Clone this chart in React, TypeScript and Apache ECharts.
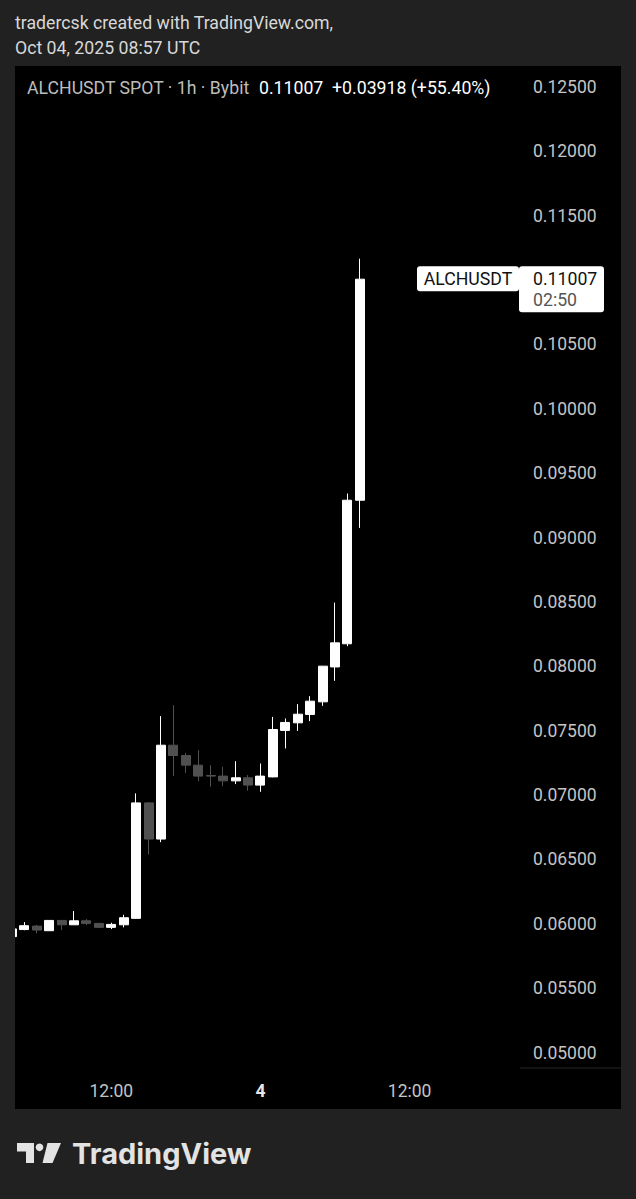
import React, { useEffect, useRef } from "react";
import * as echarts from "echarts";

// Hourly candles, Oct 03 04:00 UTC -> Oct 04 08:00 UTC
const times = [
  "03 04:00", "03 05:00", "03 06:00", "03 07:00", "03 08:00", "03 09:00", "03 10:00", "03 11:00",
  "03 12:00", "03 13:00", "03 14:00", "03 15:00", "03 16:00", "03 17:00", "03 18:00", "03 19:00",
  "03 20:00", "03 21:00", "03 22:00", "03 23:00", "04 00:00", "04 01:00", "04 02:00", "04 03:00",
  "04 04:00", "04 05:00", "04 06:00", "04 07:00", "04 08:00",
];
const opens = [
  0.0590, 0.05955, 0.05982, 0.05946, 0.06026, 0.05992, 0.06023, 0.06003,
  0.05972, 0.05992, 0.06042, 0.06939, 0.06658, 0.07387, 0.07307, 0.07232,
  0.07152, 0.07147, 0.0711, 0.07134, 0.07077, 0.07141, 0.07502, 0.07561,
  0.07626, 0.07724, 0.07995, 0.08175, 0.0929,
];
const closes = [
  0.0596, 0.05985, 0.05951, 0.06026, 0.05992, 0.06023, 0.06003, 0.05972,
  0.05995, 0.06047, 0.06939, 0.06658, 0.07387, 0.07307, 0.07232, 0.07147,
  0.07147, 0.0711, 0.07134, 0.07077, 0.07147, 0.07509, 0.07564, 0.07628,
  0.07729, 0.08001, 0.08182, 0.0929, 0.11007,
];
const lows = [
  0.0588, 0.0595, 0.05925, 0.05944, 0.05951, 0.0599, 0.0599, 0.0597,
  0.05959, 0.05972, 0.0604, 0.06539, 0.06634, 0.07147, 0.07172, 0.07108,
  0.07064, 0.07069, 0.07085, 0.07033, 0.07025, 0.07138, 0.07362, 0.07498,
  0.07574, 0.07693, 0.07887, 0.08156, 0.09075,
];
const highs = [
  0.0597, 0.06013, 0.05992, 0.06028, 0.06028, 0.06099, 0.06036, 0.06005,
  0.06008, 0.0607, 0.07013, 0.06945, 0.07613, 0.07698, 0.07328, 0.07349,
  0.07232, 0.07219, 0.07263, 0.07155, 0.07245, 0.07607, 0.07595, 0.07706,
  0.07768, 0.08001, 0.08495, 0.09342, 0.11166,
];

// time axis labels (hour index from first candle)
const timeTickIndex = [8, 20, 32];
const timeTickText = ["12:00", "4", "12:00"];
const dayBreakText = "4";

// price scale
const priceMin = 0.05;
const priceMax = 0.125;
const priceStep = 0.005;

const symbol = "ALCHUSDT";
const legendInfo = "ALCHUSDT SPOT · 1h · Bybit";
const legendValues = "0.11007  +0.03918 (+55.40%)";
const countdown = "02:50";
const headerLine1 = "tradercsk created with TradingView.com,";
const headerLine2 = "Oct 04, 2025 08:57 UTC";

const FONT = "Roboto, sans-serif";
const PAGE_BG = "#212121";

export default function App() {
  const ref = useRef<HTMLDivElement>(null);

  useEffect(() => {
    document.body.style.margin = "0";
    document.body.style.background = PAGE_BG;
    const chart = echarts.init(ref.current!, null, { renderer: "svg" });
    const data = times.map((_, i) => [i, opens[i], closes[i], lows[i], highs[i]]);

    chart.setOption({
      animation: false,
      backgroundColor: PAGE_BG,
      grid: [
        { left: 15, right: 116, top: 87, bottom: 146.5, containLabel: false },
        { left: 15, top: 66, width: 606, height: 1043, show: true, backgroundColor: "#000000", borderWidth: 0 },
      ],
      xAxis: [
        {
          type: "value",
          gridIndex: 0,
          min: 0.25,
          max: 40.88,
          axisLine: { show: false },
          axisTick: { show: false },
          splitLine: { show: false },
          axisLabel: {
            customValues: timeTickIndex,
            margin: 29,
            fontFamily: FONT,
            fontSize: 17.5,
            color: "#c4c4c4",
            formatter: (v: number) => {
              const k = timeTickIndex.indexOf(Math.round(v));
              if (k < 0) return "";
              const t = timeTickText[k];
              return t === dayBreakText ? `{b|${t}}` : t;
            },
            rich: { b: { fontFamily: FONT, fontSize: 17.5, fontWeight: "bold", color: "#e6e6e6" } },
          },
        },
        { type: "value", gridIndex: 1, show: false },
      ],
      yAxis: [
        {
          type: "value",
          gridIndex: 0,
          position: "right",
          min: priceMin,
          max: priceMax,
          interval: priceStep,
          axisLine: { show: false },
          axisTick: { show: false },
          splitLine: { show: false },
          axisLabel: {
            margin: 13,
            fontFamily: FONT,
            fontSize: 17.5,
            color: "#c4c4c4",
            formatter: (v: number) => (Math.abs(v - 0.11) < 1e-9 ? "" : v.toFixed(5)),
          },
        },
        { type: "value", gridIndex: 1, show: false },
      ],
      series: [
        {
          type: "candlestick",
          xAxisIndex: 0,
          yAxisIndex: 0,
          barWidth: 9.5,
          encode: { x: 0, y: [1, 2, 3, 4] },
          data,
          itemStyle: {
            color: "#ffffff",
            color0: "#505050",
            borderColor: "#ffffff",
            borderColor0: "#505050",
            borderWidth: 1,
          },
        },
      ],
    });

    const lastClose = closes[closes.length - 1];
    const yLast = chart.convertToPixel({ yAxisIndex: 0 }, lastClose) as number;
    const font = `17.7px ${FONT}`;

    chart.setOption({
      graphic: {
        elements: [
          // page-coloured strip that clips the partial first candle at the panel edge
          { type: "rect", id: "clipL", z: 50, x: 0, y: 60, shape: { width: 15, height: 1060 }, style: { fill: PAGE_BG } },
          { type: "text", id: "h1", x: 15, y: 23, style: { text: headerLine1, fill: "#d8d8d8", font, verticalAlign: "middle" } },
          { type: "text", id: "h2", x: 15, y: 48, style: { text: headerLine2, fill: "#d8d8d8", font, verticalAlign: "middle" } },
          { type: "text", id: "lg1", x: 27, y: 88, style: { text: legendInfo, fill: "#bdbdbd", font, verticalAlign: "middle" } },
          { type: "text", id: "lg2", x: 259, y: 88, style: { text: legendValues, fill: "#ffffff", font, verticalAlign: "middle" } },
          { type: "line", id: "sep", shape: { x1: 520, y1: 1068, x2: 621, y2: 1068 }, style: { stroke: "#262626", lineWidth: 1 } },
          { type: "rect", id: "symBox", z: 50, x: 417, y: yLast - 13, shape: { width: 102, height: 25, r: 3 }, style: { fill: "#ffffff" } },
          { type: "text", id: "symTxt", z: 51, x: 468, y: yLast - 0.5, style: { text: symbol, fill: "#111111", font, align: "center", verticalAlign: "middle" } },
          { type: "rect", id: "valBox", z: 50, x: 519, y: yLast - 13, shape: { width: 85, height: 46, r: 3 }, style: { fill: "#ffffff" } },
          { type: "text", id: "valTxt", z: 51, x: 533, y: yLast, style: { text: lastClose.toFixed(5), fill: "#111111", font, verticalAlign: "middle" } },
          { type: "text", id: "cdTxt", z: 51, x: 533, y: yLast + 21, style: { text: countdown, fill: "#555555", font, verticalAlign: "middle" } },
          // TradingView logo
          { type: "polygon", id: "lgT", shape: { points: [[17, 1143], [34, 1143], [34, 1163], [26, 1163], [26, 1151.5], [17, 1151.5]] }, style: { fill: "#e3e3e3" } },
          { type: "circle", id: "lgC", shape: { cx: 39.5, cy: 1147.3, r: 3.8 }, style: { fill: "#e3e3e3" } },
          { type: "polygon", id: "lgS", shape: { points: [[47.5, 1143], [61, 1143], [52.5, 1163], [42.5, 1163]] }, style: { fill: "#e3e3e3" } },
          { type: "text", id: "lgTxt", x: 72, y: 1153, style: { text: "TradingView", fill: "#e3e3e3", font: `bold 29px Inter, ${FONT}`, verticalAlign: "middle" } },
        ],
      },
    });

    return () => chart.dispose();
  }, []);

  return <div ref={ref} style={{ width: 636, height: 1199 }} />;
}
